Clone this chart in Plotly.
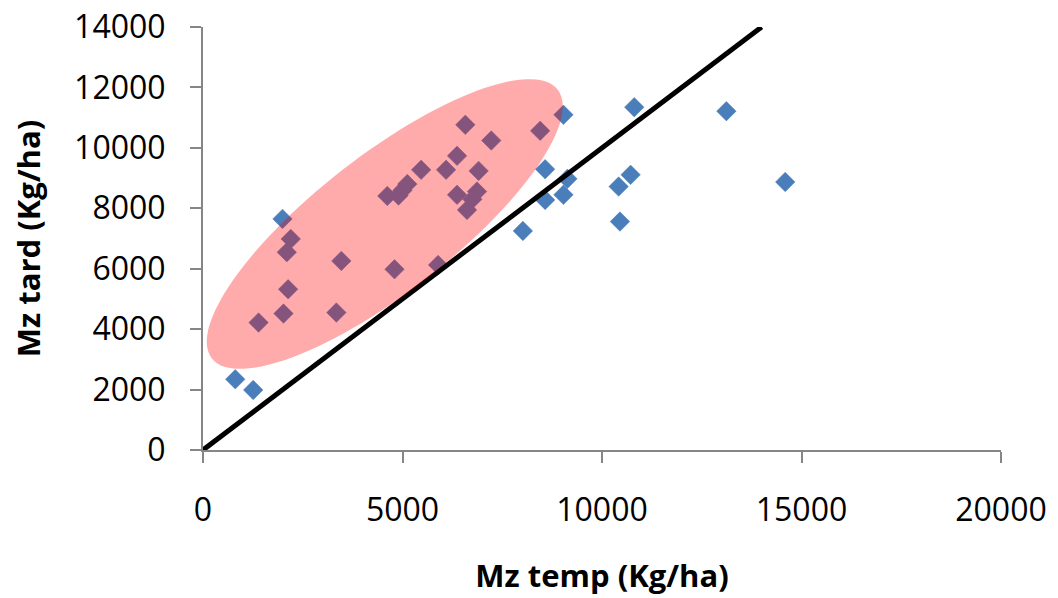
import numpy as np
import plotly.graph_objects as go

# Maize yield: early ("temp") vs late ("tard") sowing, kg/ha
mz_temp = [808, 1258, 1392, 2017, 3342, 2133, 2100, 2200, 1992, 3467,
           4800, 5892, 4620, 4900, 5000, 5120, 5467, 6092, 6367, 6908,
           6575, 7225, 8450, 9033, 6367, 6867, 6750, 6617, 8575, 8575,
           9033, 9133, 8017, 10717, 10417, 10450, 10808, 13117, 14592]
mz_tard = [2341, 1987, 4216, 4514, 4547, 5320, 6546, 6987, 7649, 6258,
           5982, 6126, 8410, 8420, 8600, 8800, 9272, 9272, 9735, 9238,
           10762, 10243, 10563, 11093, 8444, 8554, 8300, 7947, 9294, 8278,
           8444, 8974, 7252, 9106, 8719, 7560, 11347, 11215, 8874]

# 1:1 reference line
line_x = [0, 14000]
line_y = [0, 14000]

x_ticks = [0, 5000, 10000, 15000, 20000]
x_tick_labels = ["0", "5000", "10000", "15000", "20000"]
y_ticks = [0, 2000, 4000, 6000, 8000, 10000, 12000, 14000]
y_tick_labels = ["0", "2000", "4000", "6000", "8000", "10000", "12000", "14000"]

# Highlighted group: ellipse given by centre and two conjugate semi-axes (data units)
ell_center = (4555, 7480)
ell_axis_a = (4336, 4444)
ell_axis_b = (1050, -1800)

t = np.linspace(0, 2 * np.pi, 121)
ex = ell_center[0] + ell_axis_a[0] * np.cos(t) + ell_axis_b[0] * np.sin(t)
ey = ell_center[1] + ell_axis_a[1] * np.cos(t) + ell_axis_b[1] * np.sin(t)
ell_path = "M " + " L ".join(f"{a:.1f},{b:.1f}" for a, b in zip(ex, ey)) + " Z"

fig = go.Figure()
fig.add_trace(go.Scatter(
    x=mz_temp, y=mz_tard, mode="markers",
    marker=dict(symbol="diamond", size=15, color="#4A7EBB",
                line=dict(color="#4A7EBB", width=0.5)),
    showlegend=False, cliponaxis=False,
))
fig.add_trace(go.Scatter(
    x=line_x, y=line_y, mode="lines",
    line=dict(color="black", width=5),
    showlegend=False,
))

fig.add_shape(type="path", path=ell_path, xref="x", yref="y",
              fillcolor="rgba(255,0,0,0.33)", line=dict(width=0),
              layer="above")

axis_common = dict(
    showgrid=False, zeroline=False, automargin=False,
    showline=True, linecolor="#868686", linewidth=2,
    ticks="outside", ticklen=11, tickwidth=1.5, tickcolor="#868686",
    tickfont=dict(family="Open Sans", size=32, color="black"),
)

fig.update_xaxes(range=[0, 20000], tickvals=x_ticks, ticktext=x_tick_labels,
                 ticklabelstandoff=20,
                 title=dict(text="<b>Mz temp (Kg/ha)</b>",
                            font=dict(family="Open Sans", size=31, color="black"),
                            standoff=36),
                 **axis_common)
fig.update_yaxes(range=[0, 14000], tickvals=y_ticks, ticktext=y_tick_labels,
                 ticklabelstandoff=18,
                 title=dict(text="<b>Mz tard (Kg/ha)</b>",
                            font=dict(family="Open Sans", size=31, color="black"),
                            standoff=24),
                 **axis_common)

fig.update_layout(
    width=1058, height=598,
    margin=dict(l=203, r=57, t=27, b=148),
    paper_bgcolor="white", plot_bgcolor="white",
)

fig.write_html("out.html")
